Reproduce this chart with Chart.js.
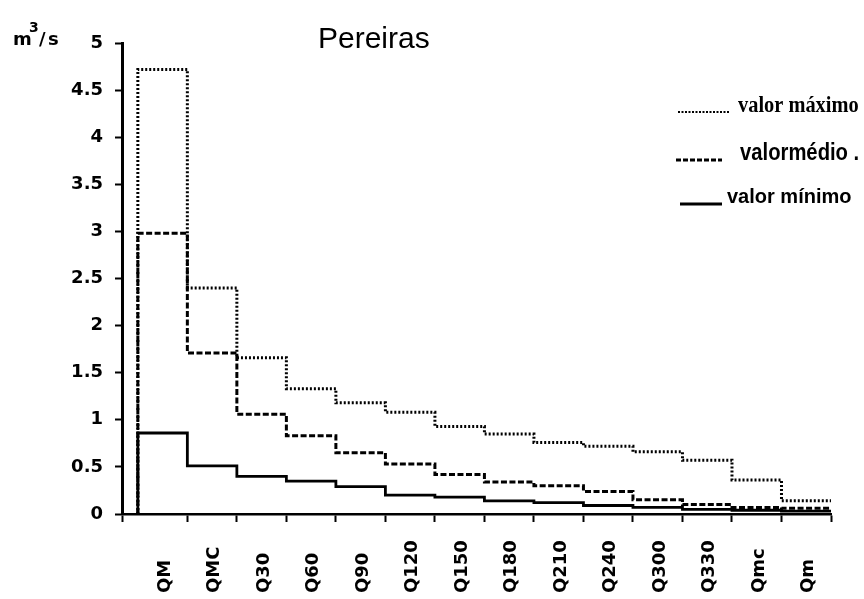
<!DOCTYPE html>
<html>
<head>
<meta charset="utf-8">
<script src="https://cdn.jsdelivr.net/npm/chart.js@4.4.0/dist/chart.umd.min.js"></script>
<style>
  html, body { margin: 0; padding: 0; background: #fff; }
  #wrap { width: 864px; height: 599px; position: relative; }
</style>
</head>
<body>
<div id="wrap"><canvas id="chart"></canvas></div>
<script>
// flow duration values for Pereiras, m3/s
const categories = ['QM', 'QMC', 'Q30', 'Q60', 'Q90', 'Q120', 'Q150', 'Q180', 'Q210', 'Q240', 'Q300', 'Q330', 'Qmc', 'Qm']
const valorMaximo = [4.72, 2.40, 1.66, 1.33, 1.18, 1.08, 0.93, 0.85, 0.76, 0.72, 0.66, 0.57, 0.36, 0.14]
const valorMedio = [2.98, 1.71, 1.06, 0.83, 0.65, 0.53, 0.42, 0.34, 0.30, 0.24, 0.15, 0.10, 0.07, 0.06]
const valorMinimo = [0.86, 0.51, 0.40, 0.35, 0.29, 0.20, 0.18, 0.14, 0.12, 0.09, 0.07, 0.05, 0.04, 0.03]
const seriesLabels = ['valor máximo', 'valormédio .', 'valor mínimo']
const yTicks = [0, 0.5, 1, 1.5, 2, 2.5, 3, 3.5, 4, 4.5, 5]

// each category i fills the interval [i, i+1]; the line rises from 0 at the start
function steps(values) {
    const pts = [{x: 0, y: 0}]
    values.forEach((v, i) => pts.push({x: i, y: v}))
    pts.push({x: values.length, y: values[values.length - 1]})
    return pts
}

const headings = {
    id: 'headings',
    afterDraw(chart) {
        const ctx = chart.ctx
        ctx.save()
        ctx.fillStyle = '#000'
        ctx.textBaseline = 'alphabetic'
        ctx.font = '30px "Liberation Sans"'
        ctx.fillText('Pereiras', 318, 48)
        ctx.font = 'bold 18px "DejaVu Sans"'
        ctx.fillText('m', 13, 45)
        ctx.fillText('/', 39, 45)
        ctx.fillText('s', 48, 45)
        ctx.font = 'bold 14px "DejaVu Sans"'
        ctx.fillText('3', 29, 32)
        ctx.restore()
    }
}

const categoryLabels = {
    id: 'categoryLabels',
    afterDraw(chart) {
        const ctx = chart.ctx
        const x = chart.scales.x
        ctx.save()
        ctx.fillStyle = '#000'
        ctx.font = 'bold 18px "DejaVu Sans"'
        ctx.textAlign = 'left'
        ctx.textBaseline = 'middle'
        categories.forEach((c, i) => {
            ctx.save()
            ctx.translate(x.getPixelForValue(i + 0.55), 593)
            ctx.rotate(-Math.PI / 2)
            ctx.fillText(c, 0, 0)
            ctx.restore()
        })
        ctx.restore()
    }
}

const stepLegend = {
    id: 'stepLegend',
    afterDraw(chart, args, opts) {
        const ctx = chart.ctx
        chart.data.datasets.forEach((ds, i) => {
            const it = opts.items[i]
            ctx.save()
            ctx.strokeStyle = '#000'
            ctx.lineWidth = it.lineWidth
            ctx.setLineDash(it.dash)
            ctx.beginPath()
            ctx.moveTo(it.line[0], it.line[2])
            ctx.lineTo(it.line[1], it.line[2])
            ctx.stroke()
            ctx.setLineDash([])
            ctx.fillStyle = '#000'
            ctx.font = it.font
            ctx.translate(it.text[0], it.text[1])
            ctx.scale(it.scaleX, 1)
            ctx.fillText(ds.label, 0, 0)
            ctx.restore()
        })
    }
}

let chart = new Chart(document.querySelector('#chart'), {
    type: 'line',
    data: {
        datasets: [
            {label: seriesLabels[0], data: steps(valorMaximo), borderDash: [2, 2], borderWidth: 3},
            {label: seriesLabels[1], data: steps(valorMedio), borderDash: [6, 2.5], borderWidth: 3},
            {label: seriesLabels[2], data: steps(valorMinimo), borderWidth: 2.8}
        ].map(ds => Object.assign(ds, {
            stepped: 'before',
            borderColor: '#000',
            pointRadius: 0,
            fill: false
        }))
    },
    options: {
        responsive: true,
        maintainAspectRatio: false,
        animation: false,
        layout: {padding: {left: 0, top: 43, right: 33, bottom: 0}},
        scales: {
            x: {
                type: 'linear',
                min: -0.32,
                max: categories.length,
                afterBuildTicks: s => {
                    s.ticks = [s.min].concat(categories.map((c, i) => i + 1)).map(v => ({value: v}))
                },
                afterFit: s => { s.height = 85 },
                ticks: {display: false},
                grid: {drawOnChartArea: false, drawTicks: true, tickLength: 8, tickWidth: 2, color: '#000'},
                border: {color: '#000', width: 2.5}
            },
            y: {
                min: 0,
                max: 5,
                afterBuildTicks: s => { s.ticks = yTicks.map(v => ({value: v})) },
                afterFit: s => { s.width = 122 },
                ticks: {
                    color: '#000',
                    padding: 12,
                    font: {family: 'DejaVu Sans', weight: 'bold', size: 18},
                    callback: v => String(v)
                },
                grid: {drawOnChartArea: false, tickLength: 7, tickWidth: 2, color: '#000'},
                border: {color: '#000', width: 3}
            }
        },
        plugins: {
            legend: {display: false},
            tooltip: {enabled: false},
            stepLegend: {
                items: [
                    {line: [678, 730, 112], dash: [2, 1.5], lineWidth: 2, font: 'bold 24px "Liberation Serif"', scaleX: 0.85, text: [738, 112]},
                    {line: [676, 722, 160], dash: [5, 2], lineWidth: 3, font: 'bold 23px "Liberation Sans"', scaleX: 0.88, text: [740, 160]},
                    {line: [680, 722, 204], dash: [], lineWidth: 3, font: 'bold 20px "Liberation Sans"', scaleX: 1, text: [727, 203]}
                ]
            }
        }
    },
    plugins: [headings, categoryLabels, stepLegend]
})
</script>
</body>
</html>
